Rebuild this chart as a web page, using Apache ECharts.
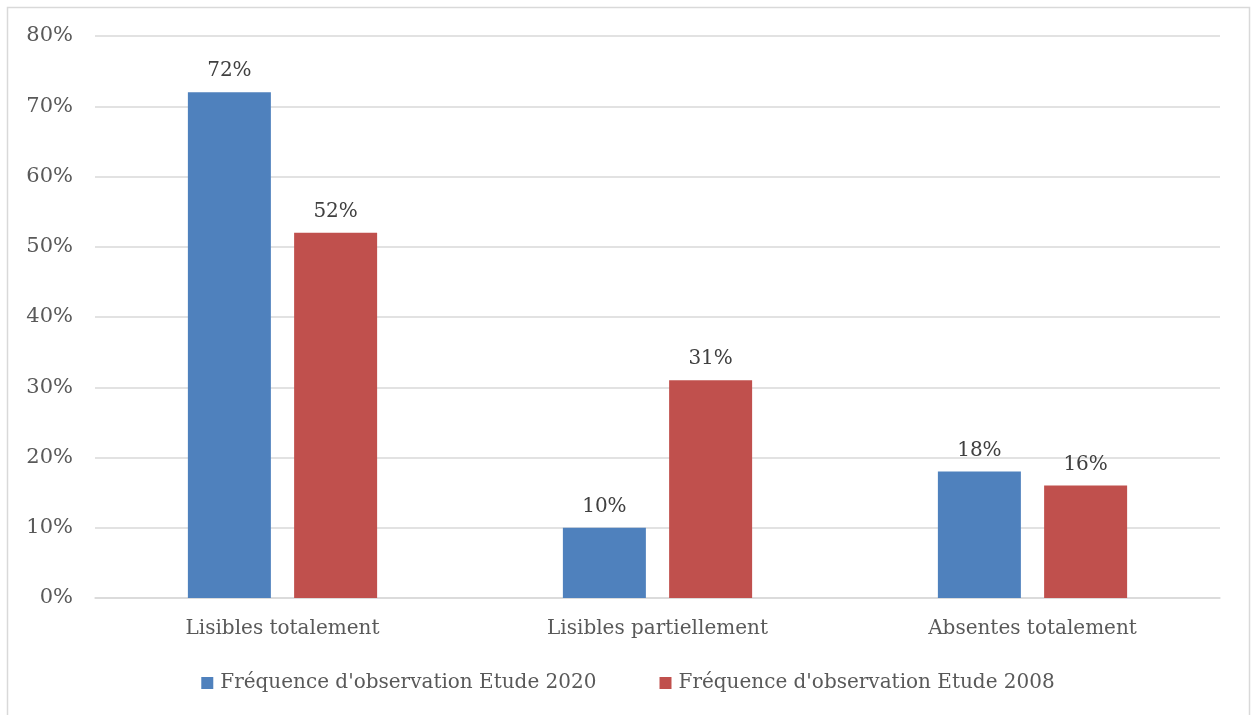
<!DOCTYPE html>
<html>
<head>
<meta charset="utf-8">
<script src="https://cdn.jsdelivr.net/npm/echarts@6/dist/echarts.min.js"></script>
<style>
  html, body { margin: 0; padding: 0; background: #fff; }
  #chart { width: 1256px; height: 715px; }
</style>
</head>
<body>
<div id="chart"></div>
<script>
// données
var categories = ['Lisibles totalement', 'Lisibles partiellement', 'Absentes totalement'];
var etude2020 = [72, 10, 18];
var etude2008 = [52, 31, 16];
var seriesNames = ["Fréquence d'observation Etude 2020", "Fréquence d'observation Etude 2008"];

var font = 'DejaVu Serif';
var chart = echarts.init(document.getElementById('chart'));

var option = {
  animation: false,
  textStyle: { fontFamily: font },
  graphic: [{
    type: 'rect',
    shape: { x: 7.5, y: 7.5, width: 1242, height: 720 },
    style: { fill: 'none', stroke: '#d9d9d9', lineWidth: 1.5 },
    silent: true
  }],
  grid: { left: 95, right: 36, top: 36, bottom: 117 },
  legend: {
    top: 668,
    left: 'center',
    itemWidth: 12,
    itemHeight: 12,
    itemGap: 63,
    icon: 'rect',
    textStyle: { fontFamily: font, fontSize: 20, color: '#595959', padding: [0, 0, 0, 2] },
    data: seriesNames
  },
  xAxis: {
    type: 'category',
    data: categories,
    axisTick: { show: false },
    axisLine: { lineStyle: { color: '#d9d9d9', width: 1.5 } },
    axisLabel: { fontFamily: font, fontSize: 20, color: '#595959', margin: 21 }
  },
  yAxis: {
    type: 'value',
    min: 0,
    max: 80,
    interval: 10,
    axisLine: { show: false },
    axisTick: { show: false },
    splitLine: { lineStyle: { color: '#d9d9d9', width: 1.5 } },
    axisLabel: {
      fontFamily: font, fontSize: 21, color: '#595959', margin: 22,
      formatter: function (v) { return v + '%'; }
    }
  },
  series: [{
    name: seriesNames[0],
    type: 'bar',
    data: etude2020,
    barWidth: 83,
    barGap: '28%',
    itemStyle: { color: '#4f81bd' },
    label: {
      show: true, position: 'top', distance: 11,
      fontFamily: font, fontSize: 20, color: '#404040',
      formatter: function (p) { return p.value + '%'; }
    }
  }, {
    name: seriesNames[1],
    type: 'bar',
    data: etude2008,
    barWidth: 83,
    itemStyle: { color: '#c0504d' },
    label: {
      show: true, position: 'top', distance: 11,
      fontFamily: font, fontSize: 20, color: '#404040',
      formatter: function (p) { return p.value + '%'; }
    }
  }]
};

chart.setOption(option);
</script>
</body>
</html>
